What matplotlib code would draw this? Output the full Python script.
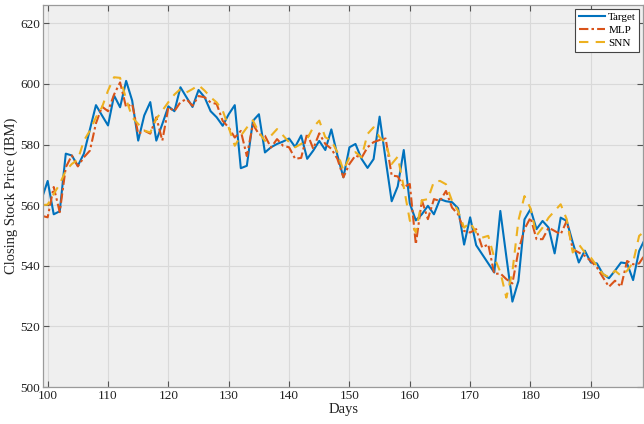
import matplotlib
matplotlib.use("Agg")
import matplotlib.pyplot as plt
import numpy as np

plt.rcParams['font.family'] = ['Liberation Serif', 'DejaVu Serif']

days = list(range(99, 200))

target = [
    562, 568, 557, 558, 577, 576.4, 573, 577, 585, 593,
    589.6, 586.3, 596.2, 592.3, 601, 594.5, 581.3, 589.6, 594, 581.3,
    586.8, 592.6, 591, 598.9, 595.6, 592.4, 598, 595.6, 591, 589,
    586.2, 590, 593, 572.2, 573, 587.8, 590, 577.4, 579.1, 580.2,
    581, 582, 579.2, 583, 575.3, 578, 581.2, 578.2, 585, 576.5,
    569.2, 579.1, 580.2, 575.3, 572.3, 575.2, 589.2, 575, 561.3, 566.2,
    578.2, 560.6, 555, 557, 559.8, 557, 562, 561.3, 561, 559,
    547, 556, 546.8, 543.8, 540.8, 537.8, 558.1, 543, 528.2, 535,
    555.3, 558.7, 552.1, 554.8, 552.6, 544.1, 555.9, 554.8, 547.7, 541.1,
    545, 541.1, 540.8, 537.3, 535.9, 538.4, 541.1, 540.8, 535.3, 544.9,
    549,
]

mlp = [
    556.5, 556, 566, 557.7, 572.5, 576.4, 572.8, 575.8, 578, 587,
    592.5, 591, 596.5, 600.5, 592.3, 593.4, 583.5, 584.6, 583.6, 589,
    581.3, 592.3, 591, 594, 595, 592.8, 596, 595.6, 593.9, 593.4,
    587.8, 585.6, 582.3, 584.5, 576.2, 586.7, 583.4, 582.9, 579, 581.8,
    579.6, 579.1, 575.3, 575.6, 583.7, 578.6, 583.7, 580.2, 578.6, 575.3,
    569.2, 573.6, 576.4, 575.6, 579.1, 580.8, 581.5, 582, 569.8, 569.5,
    566, 567, 547.1, 561.6, 555.4, 562, 561.4, 564.7, 559.2, 557,
    551.5, 551, 552.1, 546, 547.1, 537.3, 537.5, 535.6, 534.2, 545,
    552.1, 555.9, 548.8, 548.8, 552.6, 551.5, 550.4, 554.8, 545.5, 544.4,
    543.3, 541.6, 539.5, 536.2, 533.1, 535.1, 533.1, 541.6, 540.5, 540.8,
    543.8,
]

snn = [
    560, 560.2, 563.7, 567, 571.4, 573.6, 575, 581.3, 584.6, 589,
    592.3, 597.8, 602.2, 602, 595, 589, 586.8, 584.6, 584, 588.5,
    591.2, 594, 596.5, 598.3, 597.2, 598.3, 599.6, 597.8, 595.6, 593.9,
    591.2, 585.6, 579.6, 582.9, 585.6, 588, 584, 581.2, 582.9, 585.1,
    583, 580.8, 579.1, 580.2, 581.9, 585.7, 587.9, 582.4, 581.3, 577.5,
    571.4, 575.8, 577.5, 575.8, 583.5, 585.7, 582.4, 580.5, 573.6, 576,
    566, 555, 551, 561.6, 562, 567.8, 568, 566.9, 561.4, 558.1,
    552.6, 554.3, 551, 549.3, 549.9, 542.7, 538, 529.5, 538, 555,
    563, 559, 550, 552.6, 555.9, 558.1, 560.3, 555.4, 544.4, 547.1,
    544.4, 542.7, 540, 537.3, 536.2, 538.4, 536.7, 538.4, 541.1, 549.9,
    551.5,
]

x_ticks = list(range(100, 200, 10))
y_ticks = list(range(500, 621, 20))

fig = plt.figure(figsize=(6.44, 4.24), dpi=100)
ax = fig.add_axes([0.067, 0.087, 0.932, 0.901])
ax.set_facecolor('#efefef')

ax.plot(days, target, color='#0072BD', lw=1.5, label='Target')
ax.plot(days, mlp, color='#D95319', lw=1.5, linestyle=(0, (4.5, 1.5, 1.2, 1.5)), label='MLP')
ax.plot(days, snn, color='#EDB120', lw=1.5, linestyle=(0, (4.5, 3.5)), label='SNN')

ax.set_xlim(99.25, 198.7)
ax.set_ylim(500, 626)
ax.set_xticks(x_ticks)
ax.set_yticks(y_ticks)
ax.grid(True, color='#d9d9d9', lw=0.8)
ax.set_axisbelow(True)
ax.tick_params(direction='in', length=4, width=0.8, colors='#555555',
               labelcolor='#222222', labelsize=9.5, top=True, right=True, pad=2)
for sp in ax.spines.values():
    sp.set_color('#9a9a9a')
    sp.set_linewidth(0.9)

ax.set_xlabel('Days', fontsize=10.5, color='#222222', labelpad=1)
ax.set_ylabel('Closing Stock Price (IBM)', fontsize=10.5, color='#222222', labelpad=2)

leg = ax.legend(loc='upper right', fontsize=8, frameon=True, fancybox=False,
                edgecolor='#444444', framealpha=1.0, borderpad=0.3,
                handlelength=2.4, handletextpad=0.25, labelspacing=0.3,
                borderaxespad=0.35)
leg.get_frame().set_linewidth(0.8)

fig.savefig('out.png', dpi=100, facecolor='white')
